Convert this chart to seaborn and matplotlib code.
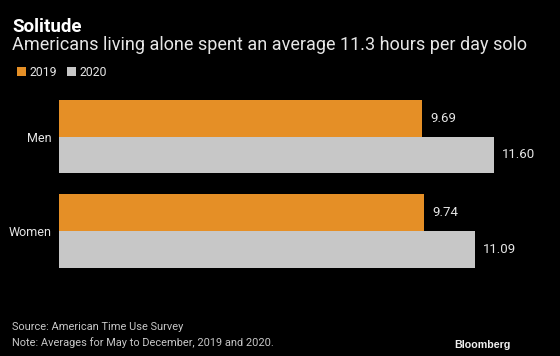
import matplotlib
matplotlib.use("Agg")
import matplotlib.pyplot as plt
import seaborn as sns
import pandas as pd

categories = ["Men", "Women"]
years = ["2019", "2020"]
values_2019 = [9.69, 9.74]
values_2020 = [11.60, 11.09]
labels_2019 = ["9.69", "9.74"]
labels_2020 = ["11.60", "11.09"]

df = pd.DataFrame({
    "group": categories * 2,
    "year": [years[0]] * 2 + [years[1]] * 2,
    "hours": values_2019 + values_2020,
})

sns.set_theme(style="dark")
plt.rcParams['font.family'] = ['Roboto', 'DejaVu Sans']

BG = "black"
ORANGE = "#e58f26"
GRAY = "#c7c7c7"
TXT = "#e6e6e6"

fig = plt.figure(figsize=(5.6, 3.56), dpi=100, facecolor=BG)
W, H = 560, 356
left, right, top, bottom = 59, 545, 95, 275
ax = fig.add_axes([left / W, 1 - bottom / H, (right - left) / W, (bottom - top) / H])
ax.set_facecolor(BG)

sns.barplot(data=df, y="group", x="hours", hue="year", order=categories,
            hue_order=years, palette=[ORANGE, GRAY], width=0.78,
            orient="h", ax=ax, saturation=1, legend=True,
            edgecolor="none", linewidth=0)

scale = 37.5
ax.set_xlim(0, (right - left) / scale)
# category 0 at pixel 136.5, spacing 94.5
ax.set_ylim((bottom - 136.5) / 94.5, (top - 136.5) / 94.5)

for cont, labs in zip(ax.containers, [labels_2019, labels_2020]):
    ax.bar_label(cont, labels=labs, padding=6, color=TXT, fontsize=9.5)

handles, lbls = ax.get_legend_handles_labels()
ax.get_legend().remove()
fig.legend(handles, lbls, loc="center left", bbox_to_anchor=(6 / W, 1 - 72 / H),
           ncol=2, frameon=False, handlelength=0.7, handleheight=0.7,
           handletextpad=0.35, columnspacing=0.8, labelcolor=TXT, fontsize=8.8)

ax.set_xlabel("")
ax.set_ylabel("")
ax.set_xticks([])
ax.tick_params(axis="y", colors=TXT, labelsize=9, length=0, pad=5)
for s in ax.spines.values():
    s.set_visible(False)
ax.grid(False)

fig.text(12 / W, 1 - 27 / H, "Solitude", color="white", fontsize=13.5, fontweight="bold",
         va="center", ha="left")
fig.text(12 / W, 1 - 45 / H, "Americans living alone spent an average 11.3 hours per day solo",
         color=TXT, fontsize=13.0, va="center", ha="left")
fig.text(12 / W, 1 - 327 / H, "Source: American Time Use Survey", color=GRAY,
         fontsize=7.9, va="center", ha="left")
fig.text(12 / W, 1 - 343 / H, "Note: Averages for May to December, 2019 and 2020.", color=GRAY,
         fontsize=7.9, va="center", ha="left")
fig.text(511 / W, 1 - 345 / H, "Bloomberg", color="#f0f0f0", fontsize=7.7,
         fontweight="bold", va="center", ha="right", family=["Liberation Sans", "DejaVu Sans"])

fig.savefig("out.png", dpi=100, facecolor=BG)
